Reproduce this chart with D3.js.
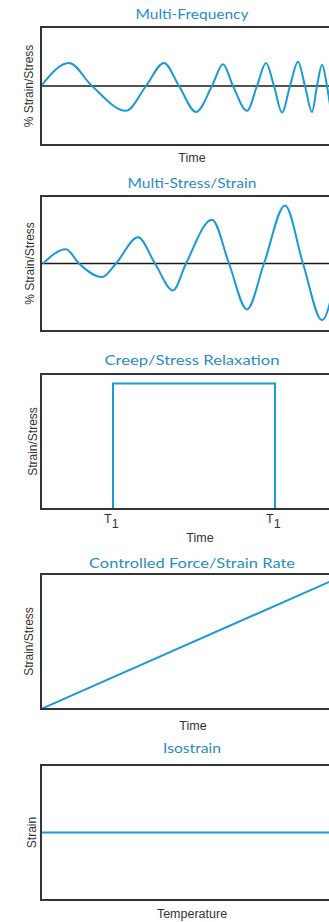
<!DOCTYPE html>
<html>
<head>
<meta charset="utf-8">
<script src="https://cdn.jsdelivr.net/npm/d3@7/dist/d3.min.js"></script>
<style>
  html, body { margin: 0; padding: 0; background: #fff; }
  svg { display: block; }
</style>
</head>
<body>
<script>
// Test-mode waveforms (time in arbitrary units, signal in % of full scale)
const titles = ["Multi-Frequency", "Multi-Stress/Strain", "Creep/Stress Relaxation",
                "Controlled Force/Strain Rate", "Isostrain"];
const xLabels = ["Time", "", "Time", "Time", "Temperature"];
const yLabels = ["% Strain/Stress", "% Strain/Stress", "Strain/Stress", "Strain/Stress", "Strain"];

// Multi-frequency: constant amplitude, rising frequency (extrema and zero crossings)
const multiFreqTime   = [0, 28, 51, 85, 105, 123, 138, 155, 171, 182, 192, 206, 216, 225, 233, 241, 249, 257, 264, 271, 276, 281, 286, 290];
const multiFreqSignal = [0, 39, 0, -42, 0, 39, 0, -44, 0, 37, 0, -42, 0, 39, 0, -45, 0, 41, 0, -44, 0, 36, 0, -44];

// Multi-stress/strain: constant frequency, growing amplitude
const multiStressTime   = [2, 25, 38, 61, 75, 97, 114, 132, 145, 171, 188, 206, 223, 244, 262, 281, 297];
const multiStressSignal = [0, 21, 0, -20, 0, 39, 0, -40, 0, 65, 0, -68, 0, 86, 0, -84, 0];

// Creep / stress relaxation: step applied at T1, removed at T1
const creepTime  = [72, 72, 234, 234];
const creepLevel = [0, 93, 93, 0];
const creepTicks = [72, 234];
const creepTickLabels = ["T", "T"];
const creepTickSubs   = ["1", "1"];

// Controlled force / strain rate: linear ramp
const rampTime  = [0, 300];
const rampLevel = [0, 98];

// Isostrain: constant strain over temperature
const isoTemp   = [0, 300];
const isoStrain = [50, 50];

const W = 329, H = 922;
const BLUE = "#1c9ad6", TITLE = "#2b8bc4", FRAME = "#333", TEXT = "#333";

const svg = d3.select("body").append("svg")
  .attr("width", W).attr("height", H).attr("viewBox", `0 0 ${W} ${H}`);

const x = d3.scaleLinear().domain([0, 302]).range([41, 343]);

// vertical extent of each panel's frame
const frames = [
  { top: 27,  bottom: 145, dom: [-100, 100], titleY: 19,  xLabelY: 162, yLabelX: 33 },
  { top: 196, bottom: 331, dom: [-100, 100], titleY: 188, xLabelY: null, yLabelX: 34 },
  { top: 374, bottom: 509, dom: [0, 100],    titleY: 365, xLabelY: 542, yLabelX: 37 },
  { top: 574, bottom: 709, dom: [0, 100],    titleY: 568, xLabelY: 730, yLabelX: 33 },
  { top: 765, bottom: 900, dom: [0, 100],    titleY: 753, xLabelY: 918, yLabelX: 36 }
];
const titleWidths = [113, 129, 175, 206, 58];
const xLabelCenters = [192, 192, 200, 193, 192];

const series = [
  { t: multiFreqTime,   v: multiFreqSignal,   curve: d3.curveMonotoneX, zero: true },
  { t: multiStressTime, v: multiStressSignal, curve: d3.curveMonotoneX, zero: true },
  { t: creepTime,       v: creepLevel,        curve: d3.curveLinear,    zero: false },
  { t: rampTime,        v: rampLevel,         curve: d3.curveLinear,    zero: false },
  { t: isoTemp,         v: isoStrain,         curve: d3.curveLinear,    zero: false }
];

frames.forEach((f, i) => {
  const y = d3.scaleLinear().domain(f.dom).range([f.bottom, f.top]);
  const g = svg.append("g");
  const s = series[i];

  const clipId = "clip" + i;
  g.append("clipPath").attr("id", clipId).append("rect")
    .attr("x", x.range()[0]).attr("y", f.top)
    .attr("width", x.range()[1] - x.range()[0]).attr("height", f.bottom - f.top);

  // title
  g.append("text")
    .attr("x", 192).attr("y", f.titleY)
    .attr("text-anchor", "middle")
    .attr("textLength", titleWidths[i]).attr("lengthAdjust", "spacingAndGlyphs")
    .style("font-family", "Lato, 'Noto Sans', sans-serif")
    .style("font-size", "14px")
    .style("fill", TITLE)
    .text(titles[i]);

  // zero reference line
  if (s.zero) {
    g.append("line")
      .attr("x1", x.range()[0]).attr("x2", x.range()[1])
      .attr("y1", y(0)).attr("y2", y(0))
      .attr("stroke", "#1a1a1a").attr("stroke-width", 1.6);
  }

  // signal
  const pts = s.t.map((t, k) => [t, s.v[k]]);
  g.append("path")
    .datum(pts)
    .attr("clip-path", `url(#${clipId})`)
    .attr("fill", "none")
    .attr("stroke", BLUE)
    .attr("stroke-width", 2)
    .attr("stroke-linejoin", "miter")
    .attr("d", d3.line().x(d => x(d[0])).y(d => y(d[1])).curve(s.curve));

  // frame
  g.append("rect")
    .attr("x", x.range()[0]).attr("y", f.top)
    .attr("width", x.range()[1] - x.range()[0]).attr("height", f.bottom - f.top)
    .attr("fill", "none").attr("stroke", FRAME).attr("stroke-width", 2);

  // axis labels
  if (xLabels[i]) {
    g.append("text")
      .attr("x", xLabelCenters[i]).attr("y", f.xLabelY)
      .attr("text-anchor", "middle")
      .style("font-family", "'Liberation Sans', Arial, sans-serif")
      .style("font-size", "12.5px")
      .style("fill", TEXT)
      .text(xLabels[i]);
  }
  g.append("text")
    .attr("transform", `translate(${f.yLabelX},${(f.top + f.bottom) / 2}) rotate(-90)`)
    .attr("text-anchor", "middle")
    .style("font-family", "'Liberation Sans', Arial, sans-serif")
    .style("font-size", "12px")
    .style("fill", TEXT)
    .text(yLabels[i]);

  // T1 tick labels for the creep panel
  if (i === 2) {
    creepTicks.forEach((t, k) => {
      const tx = g.append("text")
        .attr("x", x(t) - 9).attr("y", f.bottom + 14)
        .style("font-family", "'Liberation Sans', Arial, sans-serif")
        .style("font-size", "12.5px")
        .style("fill", TEXT);
      tx.append("tspan").text(creepTickLabels[k]);
      tx.append("tspan").attr("dy", 5).style("font-size", "12.5px").text(creepTickSubs[k]);
    });
  }
});
</script>
</body>
</html>
